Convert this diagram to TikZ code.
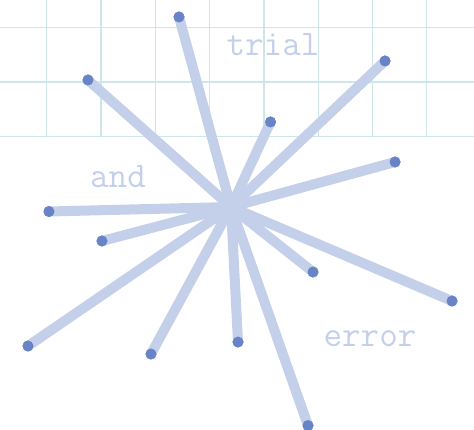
\documentclass[tikz,border=0pt]{standalone}
\usetikzlibrary{positioning}
\definecolor{gridcyan}{RGB}{204,230,234}
\definecolor{raylight}{RGB}{196,208,234}
\definecolor{dotblue}{RGB}{104,132,198}

\tikzset{
    ray/.style={line width=10pt, raylight},
    tipdot/.style={circle, fill=dotblue, inner sep=0pt, minimum size=11pt},
    word/.style={font=\ttfamily\fontsize{36}{36}\selectfont, text=raylight}
}

\begin{document}
\begin{tikzpicture}[x=1pt, y=-1pt]
    \useasboundingbox (0,0) rectangle (474,430);

    % paper grid, top part only
    \foreach \gx in {46.7,101,155.3,209.6,263.9,318.2,372.5,426.8}
        \draw[gridcyan, line width=1.3pt] (\gx,0) -- (\gx,136.7);
    \foreach \gy in {27.7,82,136.7}
        \draw[gridcyan, line width=1.3pt] (0,\gy) -- (474,\gy);

    \node[word] (trial) at (273,45) {trial};
    \node[word] (and) at (118,177) {and};
    \node[word] (error) at (370,339) {error};

    \coordinate (hub) at (231,207);

    \node[tipdot] (n1) at (179,17) {};
    \node[tipdot] (n2) at (88,80) {};
    \node[tipdot] (n3) at (385,61) {};
    \node[tipdot] (n4) at (270.5,122) {};
    \node[tipdot] (n5) at (395,162) {};
    \node[tipdot] (n6) at (49,211.5) {};
    \node[tipdot] (n7) at (102,241) {};
    \node[tipdot] (n8) at (313,272) {};
    \node[tipdot] (n9) at (452,301) {};
    \node[tipdot] (n10) at (28,346) {};
    \node[tipdot] (n11) at (151,354) {};
    \node[tipdot] (n12) at (238,342) {};
    \node[tipdot] (n13) at (308,425.5) {};

    \draw[ray] (hub) -- (n1.center);
    \draw[ray] (hub) -- (n2.center);
    \draw[ray] (hub) -- (n3.center);
    \draw[ray] (hub) -- (n4.center);
    \draw[ray] (hub) -- (n5.center);
    \draw[ray] (hub) -- (n6.center);
    \draw[ray] (hub) -- (n7.center);
    \draw[ray] (hub) -- (n8.center);
    \draw[ray] (hub) -- (n9.center);
    \draw[ray] (hub) -- (n10.center);
    \draw[ray] (hub) -- (n11.center);
    \draw[ray] (hub) -- (n12.center);
    \draw[ray] (hub) -- (n13.center);

    % dots again on top of the rays
    \foreach \n in {n1,n2,n3,n4,n5,n6,n7,n8,n9,n10,n11,n12,n13}
        \fill[dotblue] (\n.center) circle (5.5pt);
\end{tikzpicture}
\end{document}
